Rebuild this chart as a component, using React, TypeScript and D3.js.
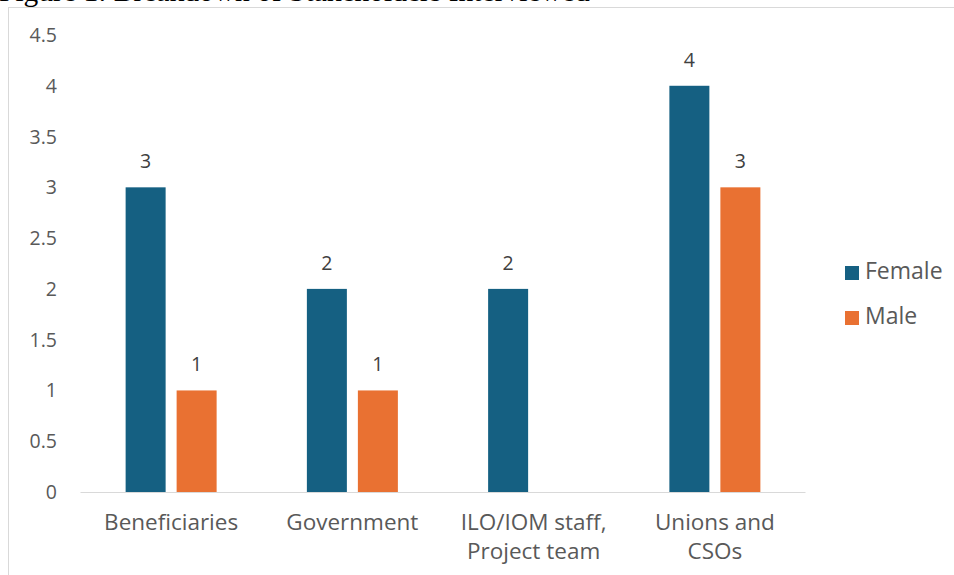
import React, { useEffect, useRef } from "react";
import * as d3 from "d3";

const categories = ["Beneficiaries", "Government", "ILO/IOM staff, Project team", "Unions and CSOs"];
const categoryLines = [["Beneficiaries"], ["Government"], ["ILO/IOM staff,", "Project team"], ["Unions and", "CSOs"]];
const seriesNames = ["Female", "Male"];
const femaleValues: (number | null)[] = [3, 2, 2, 4];
const maleValues: (number | null)[] = [1, 1, null, 3];
const yTicks = [0, 0.5, 1, 1.5, 2, 2.5, 3, 3.5, 4, 4.5];
const colors = ["#156082", "#E97132"];
const title = "Figure 1: Breakdown of Stakeholders Interviewed";

const W = 954, H = 575;
const FONT = "'Open Sans', sans-serif";
const FS = 19.5;
const FS_CAT = 22.5;
const FS_LEG = 23;

export default function App() {
  const ref = useRef<SVGSVGElement>(null);
  useEffect(() => {
    const svg = d3.select(ref.current);
    svg.selectAll("*").remove();
    const plot = { left: 80.5, right: 805.5, top: 35, bottom: 492 };
    const x0 = d3.scaleBand().domain(categories).range([plot.left, plot.right]).paddingInner(0).paddingOuter(0);
    const y = d3.scaleLinear().domain([0, 4.5]).range([plot.bottom, plot.top]);
    const barW = 40, gap = 11;
    const groupW = barW * 2 + gap;

    svg.append("rect").attr("width", W).attr("height", H).attr("fill", "#fff");
    svg.append("text").attr("x", -1).attr("y", 1).attr("font-family", "'Liberation Serif', 'Times New Roman', serif")
      .attr("font-size", 29.5).attr("fill", "#000").text(title);
    // border
    svg.append("rect").attr("x", 8.5).attr("y", 7.5).attr("width", W + 10).attr("height", H + 10)
      .attr("fill", "none").attr("stroke", "#d9d9d9").attr("stroke-width", 1);

    // y ticks
    svg.append("g").selectAll("text").data(yTicks).join("text")
      .attr("x", 57).attr("y", (d) => y(d)).attr("dy", "0.36em").attr("text-anchor", "end")
      .attr("font-family", FONT).attr("font-size", FS).attr("fill", "#595959").text((d) => String(d));

    // baseline
    svg.append("line").attr("x1", plot.left).attr("x2", plot.right).attr("y1", y(0) + 0.5).attr("y2", y(0) + 0.5)
      .attr("stroke", "#d9d9d9").attr("stroke-width", 1);

    const series = [femaleValues, maleValues];
    series.forEach((vals, si) => {
      const g = svg.append("g");
      const data = categories.map((c, i) => ({ c, v: vals[i] })).filter((d) => d.v !== null) as { c: string; v: number }[];
      const bx = (c: string) => x0(c)! + x0.bandwidth() / 2 - groupW / 2 + si * (barW + gap);
      g.selectAll("rect").data(data).join("rect")
        .attr("x", (d) => bx(d.c)).attr("width", barW)
        .attr("y", (d) => y(d.v)).attr("height", (d) => y(0) - y(d.v)).attr("fill", colors[si]);
      g.selectAll("text").data(data).join("text")
        .attr("x", (d) => bx(d.c) + barW / 2).attr("y", (d) => y(d.v) - 19)
        .attr("text-anchor", "middle").attr("font-family", FONT).attr("font-size", FS).attr("fill", "#404040")
        .text((d) => String(d.v));
    });

    // category labels
    categories.forEach((c, i) => {
      const cx = x0(c)! + x0.bandwidth() / 2;
      categoryLines[i].forEach((line, li) => {
        svg.append("text").attr("x", cx).attr("y", 530 + li * 29).attr("text-anchor", "middle")
          .attr("font-family", FONT).attr("font-size", FS_CAT).attr("fill", "#595959").text(line);
      });
    });

    // legend
    seriesNames.forEach((s, i) => {
      const ly = 273 + i * 45;
      svg.append("rect").attr("x", 845).attr("y", ly - 7).attr("width", 14).attr("height", 14).attr("fill", colors[i]);
      svg.append("text").attr("x", 865).attr("y", ly + 6).attr("font-family", FONT)
        .attr("font-size", FS_LEG).attr("fill", "#595959").text(s);
    });
  }, []);
  return (
    <svg ref={ref} width={W} height={H} style={{ position: "absolute", left: 0, top: 0 }} />
  );
}
